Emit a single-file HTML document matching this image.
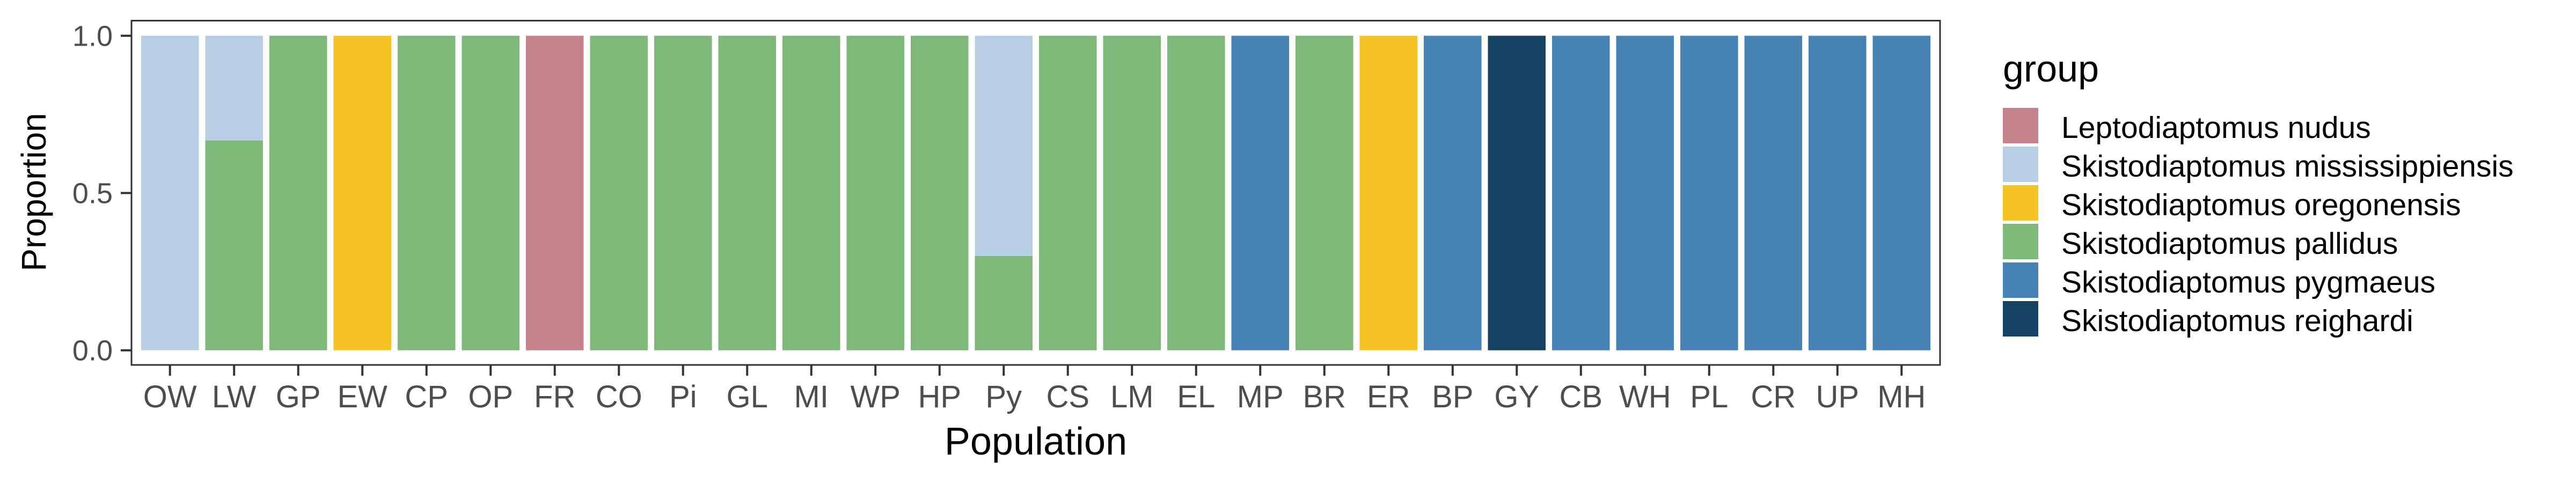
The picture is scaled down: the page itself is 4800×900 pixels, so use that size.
<!DOCTYPE html>
<html><head><meta charset="utf-8"><style>
html,body{margin:0;padding:0;background:#fff;}
svg{display:block;font-family:"Liberation Sans",Arial,sans-serif;}
</style></head><body>
<svg id="chart" width="4800" height="900" viewBox="0 0 4800 900" xmlns="http://www.w3.org/2000/svg">
<rect width="4800" height="900" fill="#fff"/>
<g id="bars"></g>
<rect x="245" y="38.5" width="3370" height="641.5" fill="none" stroke="#333" stroke-width="3"/>
<g id="axes"></g>
<text x="63" y="358" transform="rotate(-90 63 358)" text-anchor="middle" dominant-baseline="central" font-size="64" fill="#000">Proportion</text>
<text x="1930" y="847" text-anchor="middle" font-size="72" fill="#000">Population</text>
<g id="legend">
<text x="3732" y="152" font-size="70" fill="#000">group</text>
</g>
</svg>
<script>
const categories = ["OW","LW","GP","EW","CP","OP","FR","CO","Pi","GL","MI","WP","HP","Py","CS","LM","EL","MP","BR","ER","BP","GY","CB","WH","PL","CR","UP","MH"];
const groups = ["Leptodiaptomus nudus","Skistodiaptomus mississippiensis","Skistodiaptomus oregonensis","Skistodiaptomus pallidus","Skistodiaptomus pygmaeus","Skistodiaptomus reighardi"];
const groupColors = ["#C4838A","#B8CFE3","#F6C325","#7EB97A","#4682B4","#144263"];
const nudus =     [0,0,0,0,0,0,1,0,0,0,0,0,0,0,0,0,0,0,0,0,0,0,0,0,0,0,0,0];
const mississippiensis = [1,0.333,0,0,0,0,0,0,0,0,0,0,0,0.7,0,0,0,0,0,0,0,0,0,0,0,0,0,0];
const oregonensis = [0,0,0,1,0,0,0,0,0,0,0,0,0,0,0,0,0,0,0,1,0,0,0,0,0,0,0,0];
const pallidus =  [0,0.667,1,0,1,1,0,1,1,1,1,1,1,0.3,1,1,1,0,1,0,0,0,0,0,0,0,0,0];
const pygmaeus =  [0,0,0,0,0,0,0,0,0,0,0,0,0,0,0,0,0,1,0,0,1,0,1,1,1,1,1,1];
const reighardi = [0,0,0,0,0,0,0,0,0,0,0,0,0,0,0,0,0,0,0,0,0,1,0,0,0,0,0,0];
const yTicks = [0,0.5,1];
const yTickLabels = ["0.0","0.5","1.0"];

const NS="http://www.w3.org/2000/svg";
const series=[nudus,mississippiensis,oregonensis,pallidus,pygmaeus,reighardi];
const px0=245, px1=3615, y0=652.7, y1=66.6;
const n=categories.length;
const step=(px1-px0)/(n-1+1.2);
function xScale(i){return px0+(i+0.6)*step;}
function yScale(v){return y0+(y1-y0)*v;}
const barW=step*0.9;
const barsG=document.getElementById('bars');
for(let i=0;i<n;i++){
  let cum=0;
  for(let g=series.length-1;g>=0;g--){
    const v=series[g][i];
    if(v<=0) continue;
    const r=document.createElementNS(NS,'rect');
    const yt=yScale(cum+v), yb=yScale(cum);
    r.setAttribute('x',xScale(i)-barW/2);
    r.setAttribute('y',yt);
    r.setAttribute('width',barW);
    r.setAttribute('height',yb-yt);
    r.setAttribute('fill',groupColors[g]);
    
    
    barsG.appendChild(r);
    cum+=v;
  }
}
const ax=document.getElementById('axes');
for(let i=0;i<n;i++){
  const x=xScale(i);
  const t=document.createElementNS(NS,'line');
  t.setAttribute('x1',x);t.setAttribute('x2',x);t.setAttribute('y1',680);t.setAttribute('y2',700);
  t.setAttribute('stroke','#333');t.setAttribute('stroke-width','4');
  
  
  ax.appendChild(t);
  const l=document.createElementNS(NS,'text');
  l.setAttribute('x',x);l.setAttribute('y',759);l.setAttribute('text-anchor','middle');
  l.setAttribute('font-size','58');l.setAttribute('fill','#4d4d4d');
  l.textContent=categories[i];
  
  
  ax.appendChild(l);
}
for(let j=0;j<yTicks.length;j++){
  const y=yScale(yTicks[j]);
  const t=document.createElementNS(NS,'line');
  t.setAttribute('x1',225);t.setAttribute('x2',245);t.setAttribute('y1',y);t.setAttribute('y2',y);
  t.setAttribute('stroke','#333');t.setAttribute('stroke-width','4');
  
  
  ax.appendChild(t);
  const l=document.createElementNS(NS,'text');
  l.setAttribute('x',210);l.setAttribute('y',y+19);l.setAttribute('text-anchor','end');
  l.setAttribute('font-size','54');l.setAttribute('fill','#4d4d4d');
  l.textContent=yTickLabels[j];
  
  
  ax.appendChild(l);
}
const lg=document.getElementById('legend');
for(let g=0;g<groups.length;g++){
  const top=201+g*72;
  const r=document.createElementNS(NS,'rect');
  r.setAttribute('x',3732);r.setAttribute('y',top);r.setAttribute('width',66);r.setAttribute('height',66);
  r.setAttribute('fill',groupColors[g]);
  
  
  lg.appendChild(r);
  const t=document.createElementNS(NS,'text');
  t.setAttribute('x',3841);t.setAttribute('y',top+56);
  t.setAttribute('font-size','57');t.setAttribute('fill','#000');
  t.textContent=groups[g];
  
  
  lg.appendChild(t);
}
</script>
</body></html>
